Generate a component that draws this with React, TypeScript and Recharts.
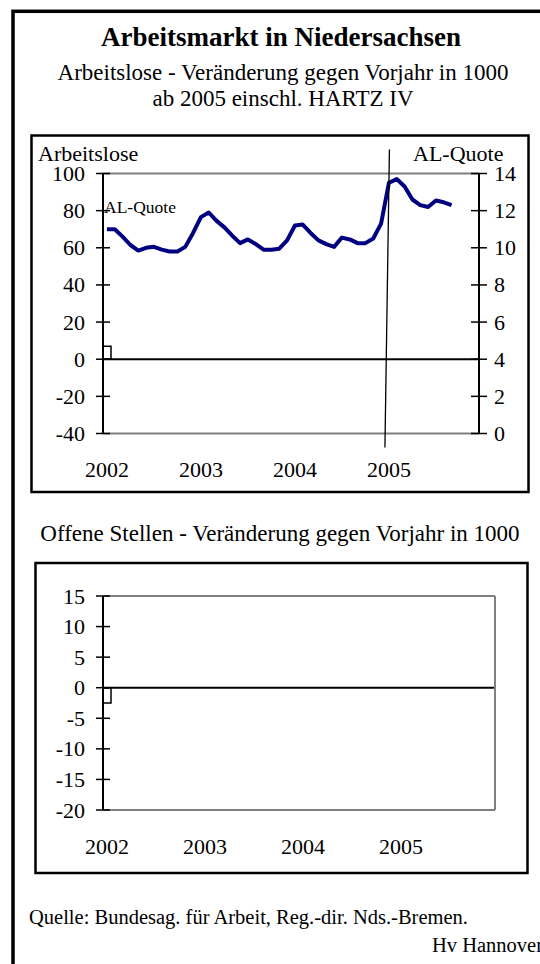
import { Bar, ComposedChart, Line, ReferenceLine, XAxis, YAxis } from 'recharts';

const FONT = '"Liberation Serif", "Times New Roman", serif';

const YEARS = ['2002', '2003', '2004', '2005'];
const MONTHS = ['01', '02', '03', '04', '05', '06', '07', '08', '09', '10', '11', '12'];
const CATEGORIES = YEARS.flatMap((y) => MONTHS.map((m) => `${y}-${m}`));

// AL-Quote in %, Jan 2002 .. Sep 2005
const AL_QUOTE = [
  11.0, 11.0, 10.6, 10.15, 9.85, 10.0, 10.05, 9.9, 9.8, 9.8, 10.05, 10.8,
  11.65, 11.9, 11.45, 11.1, 10.65, 10.25, 10.45, 10.2, 9.9, 9.9, 9.95, 10.4,
  11.2, 11.25, 10.8, 10.4, 10.2, 10.05, 10.55, 10.45, 10.25, 10.25, 10.5, 11.3,
  13.5, 13.7, 13.3, 12.6, 12.3, 12.2, 12.55, 12.45, 12.3,
];
// Arbeitslose, Veränderung gegen Vorjahr in 1000 (nur Jan 2002 vorhanden)
const AL_CHANGE = [7];
// Offene Stellen, Veränderung gegen Vorjahr in 1000
const OS_CHANGE = [-2.5];

const AL_LEFT_TICKS = [-40, -20, 0, 20, 40, 60, 80, 100];
const AL_RIGHT_TICKS = [0, 2, 4, 6, 8, 10, 12, 14];
const OS_TICKS = [-20, -15, -10, -5, 0, 5, 10, 15];

const alData = CATEGORIES.map((month, i) => ({
  month,
  change: AL_CHANGE[i] ?? null,
  quote: AL_QUOTE[i] ?? null,
}));

const osData = CATEGORIES.map((month, i) => ({
  month,
  change: OS_CHANGE[i] ?? null,
}));

const LeftTick = ({ x, y, payload }: any) => (
  <g>
    <line x1={x - 7} x2={x + 7} y1={y} y2={y} stroke="#000" strokeWidth={1.5} />
    <text x={x - 18} y={y + 7.5} textAnchor="end" fontSize={22} fontFamily={FONT} fill="#000">
      {payload.value}
    </text>
  </g>
);

const RightTick = ({ x, y, payload }: any) => (
  <g>
    <line x1={x - 8} x2={x + 8} y1={y} y2={y} stroke="#000" strokeWidth={1.5} />
    <text x={x + 15} y={y + 7.5} textAnchor="start" fontSize={22} fontFamily={FONT} fill="#000">
      {payload.value}
    </text>
  </g>
);

const YearTick = ({ x, y, payload }: any) => (
  <text x={x} y={y + 43.5} textAnchor="middle" fontSize={22} fontFamily={FONT} fill="#000">
    {String(payload.value).slice(0, 4)}
  </text>
);

// Hartz-IV-Marke: leicht schräg, ragt über die Plotfläche hinaus
const HartzLine = (p: any) => {
  const top = Math.min(p.y1, p.y2);
  const bottom = Math.max(p.y1, p.y2);
  return (
    <line x1={p.x1 + 0.5} y1={top - 24} x2={p.x1 - 4} y2={bottom + 14} stroke="#000" strokeWidth={1.3} />
  );
};

export default function App() {
  return (
    <div
      style={{
        position: 'absolute',
        left: 0,
        top: 0,
        width: 540,
        height: 964,
        overflow: 'hidden',
        background: '#fff',
        fontFamily: FONT,
      }}
    >
      <svg width={540} height={964} style={{ position: 'absolute', left: 0, top: 0 }} fontFamily={FONT}>
        <rect x={13} y={11.3} width={700} height={1000} fill="none" stroke="#000" strokeWidth={3.5} />
        <text x={281} y={46} textAnchor="middle" fontSize={27} fontWeight="bold">
          Arbeitsmarkt in Niedersachsen
        </text>
        <text x={283} y={80} textAnchor="middle" fontSize={23}>
          Arbeitslose - Veränderung gegen Vorjahr in 1000
        </text>
        <text x={283} y={106} textAnchor="middle" fontSize={23}>
          ab 2005 einschl. HARTZ IV
        </text>
        <rect x={31.5} y={135.5} width={497} height={356.5} fill="none" stroke="#000" strokeWidth={2.5} />
        <text x={38} y={161} fontSize={22}>Arbeitslose</text>
        <text x={413} y={161} fontSize={22}>AL-Quote</text>
        <text x={104} y={213} fontSize={17.5}>AL-Quote</text>
        <text x={280} y={541} textAnchor="middle" fontSize={23}>
          Offene Stellen - Veränderung gegen Vorjahr in 1000
        </text>
        <rect x={35.5} y={563} width={492} height={310} fill="none" stroke="#000" strokeWidth={2.5} />
        <text x={29} y={924} fontSize={20.5}>
          Quelle: Bundesag. für Arbeit, Reg.-dir. Nds.-Bremen.
        </text>
        <text x={432} y={952} fontSize={20.5}>Hv Hannover</text>
      </svg>

      <div style={{ position: 'absolute', left: 30, top: 134 }}>
        <ComposedChart
          width={500}
          height={360}
          data={alData}
          margin={{ top: 39.5, right: 0, bottom: 0, left: 0 }}
          barCategoryGap={0}
          barGap={0}
        >
          <XAxis
            dataKey="month"
            interval={11}
            axisLine={false}
            tickLine={false}
            tickSize={0}
            tickMargin={0}
            height={60.5}
            tick={(p: any) => <YearTick {...p} />}
          />
          <YAxis
            yAxisId="left"
            domain={[-40, 100]}
            ticks={AL_LEFT_TICKS}
            interval={0}
            width={73}
            axisLine={{ stroke: '#000', strokeWidth: 2 }}
            tickLine={false}
            tickSize={0}
            tickMargin={0}
            tick={(p: any) => <LeftTick {...p} />}
          />
          <YAxis
            yAxisId="right"
            orientation="right"
            domain={[0, 14]}
            ticks={AL_RIGHT_TICKS}
            interval={0}
            width={51}
            axisLine={{ stroke: '#000', strokeWidth: 2 }}
            tickLine={false}
            tickSize={0}
            tickMargin={0}
            tick={(p: any) => <RightTick {...p} />}
          />
          <ReferenceLine yAxisId="left" y={100} stroke="#808080" strokeWidth={2} />
          <ReferenceLine yAxisId="left" y={-40} stroke="#808080" strokeWidth={2} />
          <Bar yAxisId="left" dataKey="change" fill="#fff" stroke="#000" strokeWidth={1.5} isAnimationActive={false} />
          <ReferenceLine yAxisId="left" y={0} stroke="#000" strokeWidth={2} />
          <Line
            yAxisId="right"
            dataKey="quote"
            stroke="#000080"
            strokeWidth={4}
            strokeLinejoin="round"
            dot={false}
            activeDot={false}
            isAnimationActive={false}
          />
          <ReferenceLine yAxisId="left" x="2005-01" shape={(p: any) => <HartzLine {...p} />} />
        </ComposedChart>
      </div>

      <div style={{ position: 'absolute', left: 34, top: 562 }}>
        <ComposedChart
          width={495}
          height={313}
          data={osData}
          margin={{ top: 34, right: 0, bottom: 0, left: 0 }}
          barCategoryGap={0}
          barGap={0}
        >
          <XAxis
            dataKey="month"
            interval={11}
            axisLine={false}
            tickLine={false}
            tickSize={0}
            tickMargin={0}
            height={65}
            tick={(p: any) => <YearTick {...p} />}
          />
          <YAxis
            yAxisId="left"
            domain={[-20, 15]}
            ticks={OS_TICKS}
            interval={0}
            width={69}
            axisLine={{ stroke: '#000', strokeWidth: 2 }}
            tickLine={false}
            tickSize={0}
            tickMargin={0}
            tick={(p: any) => <LeftTick {...p} />}
          />
          <YAxis
            yAxisId="right"
            orientation="right"
            domain={[0, 1]}
            ticks={[]}
            width={34}
            tick={false}
            tickLine={false}
            axisLine={{ stroke: '#808080', strokeWidth: 2 }}
          />
          <ReferenceLine yAxisId="left" y={15} stroke="#808080" strokeWidth={2} />
          <ReferenceLine yAxisId="left" y={-20} stroke="#808080" strokeWidth={2} />
          <Bar yAxisId="left" dataKey="change" fill="#fff" stroke="#000" strokeWidth={1.5} isAnimationActive={false} />
          <ReferenceLine yAxisId="left" y={0} stroke="#000" strokeWidth={2} />
        </ComposedChart>
      </div>
    </div>
  );
}
